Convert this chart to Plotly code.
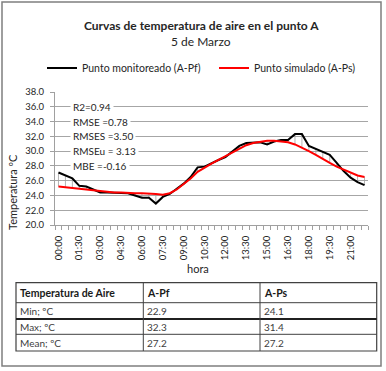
import plotly.graph_objects as go

# ---------------- data ----------------
times = ["00:00", "00:30", "01:00", "01:30", "02:00", "02:30", "03:00", "03:30", "04:00",
         "04:30", "05:00", "05:30", "06:00", "06:30", "07:00", "07:30", "08:00", "08:30",
         "09:00", "09:30", "10:00", "10:30", "11:00", "11:30", "12:00", "12:30", "13:00",
         "13:30", "14:00", "14:30", "15:00", "15:30", "16:00", "16:30", "17:00", "17:30",
         "18:00", "18:30", "19:00", "19:30", "20:00", "20:30", "21:00", "21:30", "22:00"]

monitoreado = [27.1, 26.7, 26.3, 25.3, 25.2, 24.8, 24.4, 24.4, 24.4, 24.4,
               24.3, 24.0, 23.7, 23.7, 22.9, 23.8, 24.2, 24.9, 25.6, 26.5,
               27.8, 27.9, 28.4, 28.8, 29.2, 30.0, 30.7, 31.1, 31.2, 31.2,
               30.9, 31.3, 31.5, 31.5, 32.3, 32.3, 30.7, 30.3, 30.0, 29.5,
               28.4, 27.3, 26.4, 25.8, 25.4]

simulado = [25.2, 25.1, 25.0, 24.9, 24.8, 24.7, 24.5, 24.4, 24.4, 24.4,
            24.3, 24.3, 24.3, 24.3, 24.2, 24.1, 24.3, 24.8, 25.5, 26.3,
            27.2, 27.8, 28.3, 28.8, 29.3, 29.8, 30.3, 30.8, 31.1, 31.3,
            31.4, 31.4, 31.3, 31.2, 30.9, 30.5, 30.0, 29.5, 28.9, 28.4,
            27.9, 27.5, 27.0, 26.7, 26.5]

tick_labels = ["00:00", "01:30", "03:00", "04:30", "06:00", "07:30", "09:00",
               "10:30", "12:00", "13:30", "15:00", "16:30", "18:00", "19:30", "21:00"]

stats_text = ["R2=0.94", "RMSE =0.78", "RMSES =3.50", "RMSEu = 3.13", "MBE =-0.16"]
stats_y = [36, 34, 32, 30, 28]

table_header = ["Temperatura de Aire", "A-Pf", "A-Ps"]
table_rows = [["Min; ºC", "22.9", "24.1"],
              ["Max; ºC", "32.3", "31.4"],
              ["Mean; ºC", "27.2", "27.2"]]

# ---------------- layout helpers (pixel -> paper) ----------------
W, H = 386, 371
PL, PR, PT, PB = 55, 368, 92, 225
def xp(px):
    return (px - PL) / (PR - PL)
def yp(py):
    return (PB - py) / (PB - PT)

FONT = "Lato, 'Open Sans', sans-serif"
TXT = "#262626"

fig = go.Figure()

# drop lines between the two series
dx, dy = [], []
for t, a, b in zip(times, monitoreado, simulado):
    dx += [t, t, None]
    dy += [a, b, None]
fig.add_trace(go.Scatter(x=dx, y=dy, mode="lines", line=dict(color="#a0a0a0", width=0.8),
                         showlegend=False, hoverinfo="skip"))

fig.add_trace(go.Scatter(x=times, y=monitoreado, mode="lines", name="Punto monitoreado (A-Pf)",
                         line=dict(color="#000000", width=2)))
fig.add_trace(go.Scatter(x=times, y=simulado, mode="lines", name="Punto simulado (A-Ps)",
                         line=dict(color="#ff0000", width=2)))

n = len(times)
fig.update_layout(
    width=W, height=H,
    margin=dict(l=PL, r=W - PR, t=PT, b=H - PB),
    paper_bgcolor="white", plot_bgcolor="white",
    font=dict(family=FONT, size=10, color=TXT),
    showlegend=True,
    legend=dict(orientation="h", x=xp(46), y=yp(68), xanchor="left", yanchor="middle",
                font=dict(size=10.5, color=TXT), itemwidth=30, bgcolor="rgba(0,0,0,0)",
                entrywidth=127, entrywidthmode="pixels", tracegroupgap=0),
    xaxis=dict(type="category", range=[-0.5, n - 0.5], tickmode="array",
               tickvals=tick_labels, ticktext=tick_labels, tickangle=-90,
               ticks="", showgrid=False, showline=True, linecolor="#a0a0a0",
               linewidth=1, tickfont=dict(size=9.5, color=TXT), ticklabelstandoff=6,
               zeroline=False),
    xaxis2=dict(overlaying="x", anchor="y", side="bottom", range=[-0.5, n - 0.5],
                tickmode="array", tickvals=[k - 0.5 for k in range(n + 1)],
                ticks="outside", ticklen=4, tickcolor="#a0a0a0", showticklabels=False,
                showgrid=False, showline=False, zeroline=False),
    yaxis=dict(range=[20, 38], dtick=2, tick0=20, tickformat=".1f", showgrid=True,
               gridcolor="#a6a6a6", gridwidth=1, showline=True, linecolor="#a0a0a0",
               ticks="outside", ticklen=4, tickcolor="#a0a0a0", zeroline=False,
               tickfont=dict(size=9.5, color=TXT), ticklabelstandoff=4),
)

# invisible trace so xaxis2 is drawn
fig.add_trace(go.Scatter(x=[0], y=[20], xaxis="x2", mode="markers",
                         marker=dict(opacity=0), showlegend=False, hoverinfo="skip"))

def txt(text, px, py, size, angle=0, color=TXT):
    return dict(text=text, x=xp(px), y=yp(py), xref="paper", yref="paper",
                xanchor="center", yanchor="middle", showarrow=False, textangle=angle,
                font=dict(size=size, color=color))

ann = []
ann.append(txt("<b>Curvas de temperatura de aire en el punto A</b>", 201, 25, 12))
ann.append(txt("5 de Marzo", 201, 42, 12))
ann.append(txt("Temperatura ºC", 12, 192, 11, angle=-90))
ann.append(txt("hora", 198, 268, 11))
for s, v in zip(stats_text, stats_y):
    ann.append(dict(text=s, x=xp(70), y=v, xref="paper", yref="y", xanchor="left",
                    yanchor="middle", showarrow=False, bgcolor="white", borderpad=2,
                    font=dict(size=10, color=TXT)))

# table
col_x = [16, 143.3, 260, 376.7]
row_y = [282.7, 302.7, 319, 334.3, 351]
shapes = []
shapes.append(dict(type="rect", xref="paper", yref="paper", x0=xp(2), x1=xp(381),
                   y0=yp(2), y1=yp(366), line=dict(color="#7f7f7f", width=1.5),
                   fillcolor="rgba(0,0,0,0)", layer="below"))
shapes.append(dict(type="rect", xref="paper", yref="paper", x0=xp(col_x[0]), x1=xp(col_x[-1]),
                   y0=yp(row_y[0]), y1=yp(row_y[-1]), line=dict(color="#404040", width=1.2)))
for i, ry in enumerate(row_y[1:-1]):
    shapes.append(dict(type="line", xref="paper", yref="paper", x0=xp(col_x[0]), x1=xp(col_x[-1]),
                       y0=yp(ry), y1=yp(ry),
                       line=dict(color="#202020" if i == 1 else "#404040", width=2 if i == 1 else 1)))
for cx in col_x[1:-1]:
    shapes.append(dict(type="line", xref="paper", yref="paper", x0=xp(cx), x1=xp(cx),
                       y0=yp(row_y[0]), y1=yp(row_y[-1]), line=dict(color="#404040", width=1)))

for j, h in enumerate(table_header):
    ann.append(dict(text="<b>" + h + "</b>", x=xp(col_x[j] + 2), y=yp((row_y[0] + row_y[1]) / 2),
                    xref="paper", yref="paper", xanchor="left", yanchor="middle",
                    showarrow=False, font=dict(size=10.5, color="#1a1a1a")))
for r, row in enumerate(table_rows):
    cy = (row_y[r + 1] + row_y[r + 2]) / 2
    for j, cell in enumerate(row):
        ann.append(dict(text=cell, x=xp(col_x[j] + 2), y=yp(cy), xref="paper", yref="paper",
                        xanchor="left", yanchor="middle", showarrow=False,
                        font=dict(size=10, color="#404040")))

fig.update_layout(annotations=ann, shapes=shapes)
fig.write_html("out.html", config={"displayModeBar": False},
               post_script="document.body.style.margin='0px';")
